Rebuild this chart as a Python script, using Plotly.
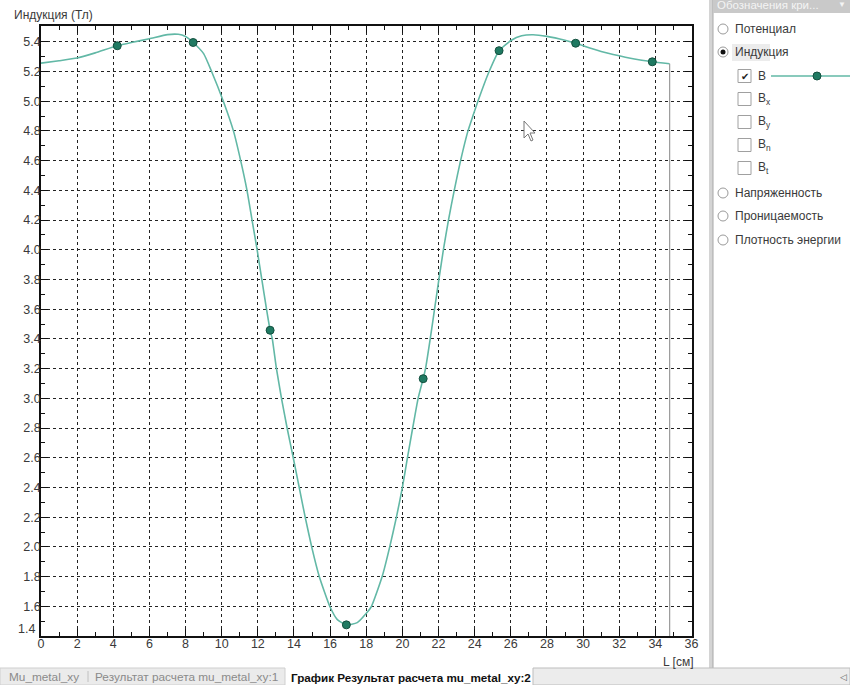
import plotly.graph_objects as go

# ---- data ----
L_cm = [0, 1, 2, 3, 4.22, 5, 6, 7, 7.6, 8, 8.42, 9, 9.44, 10.09, 10.65, 11.05, 11.4,
        11.68, 11.96, 12.22, 12.48, 12.68, 12.8, 13.03, 13.31, 13.62, 13.96, 14.29,
        14.62, 14.98, 15.4, 15.98, 16.4, 16.9, 17.5, 17.98, 18.29, 18.88, 19.3, 19.67,
        20.0, 20.28, 20.57, 20.87, 21.15, 21.28, 21.54, 21.78, 22.02, 22.27, 22.55,
        22.87, 23.22, 23.63, 23.9, 24.18, 24.8, 25.35, 26.03, 26.6, 27.23, 28.0, 29.0,
        29.59, 30.0, 31.0, 32.0, 33.0, 33.83, 34.79]
B_T = [5.256, 5.272, 5.29, 5.325, 5.373, 5.395, 5.42, 5.448, 5.45, 5.435, 5.395, 5.32,
       5.2, 5.0, 4.8, 4.6, 4.4, 4.2, 4.0, 3.8, 3.6, 3.458, 3.4, 3.2, 3.0, 2.8, 2.6, 2.4,
       2.2, 2.0, 1.8, 1.6, 1.51, 1.475, 1.49, 1.55, 1.6, 1.8, 2.0, 2.2, 2.4, 2.6, 2.8,
       3.0, 3.132, 3.2, 3.4, 3.6, 3.8, 4.0, 4.2, 4.4, 4.6, 4.8, 4.9, 5.0, 5.2, 5.34,
       5.41, 5.44, 5.447, 5.436, 5.41, 5.39, 5.373, 5.335, 5.306, 5.28, 5.265, 5.252]
marker_L = [4.22, 8.42, 12.68, 16.9, 21.15, 25.35, 29.59, 33.83]
marker_B = [5.373, 5.395, 3.458, 1.475, 3.132, 5.34, 5.39, 5.265]

x_ticks = list(range(0, 37, 2))
y_ticks = [round(1.4 + 0.2 * i, 1) for i in range(21)]
y_ticktext = ["" if i == 0 else "{:.1f}".format(v) for i, v in enumerate(y_ticks)]

legend_radios = ["Потенциал", "Индукция", "Напряженность", "Проницаемость", "Плотность энергии"]
legend_checks = ["B", "B<sub>x</sub>", "B<sub>y</sub>", "B<sub>n</sub>", "B<sub>t</sub>"]
tabs = ["Mu_metal_xy", "Результат расчета mu_metal_xy:1", "График Результат расчета mu_metal_xy:2"]

W, H = 850, 685
def px(x): return x / W
def py(y): return 1 - y / H

CURVE = "#62b8a6"
MARK = "#1f7a62"
FONT = "Liberation Sans, Arial, sans-serif"
TXT = "#3a3a3a"

fig = go.Figure()
fig.add_trace(go.Scatter(x=L_cm, y=B_T, mode="lines",
                         line=dict(color=CURVE, width=1.6, shape="spline", smoothing=0.5),
                         hoverinfo="skip", showlegend=False))
fig.add_trace(go.Scatter(x=marker_L, y=marker_B, mode="markers",
                         marker=dict(color=MARK, size=8, line=dict(color="#14503f", width=1)),
                         showlegend=False))

shapes = []
annotations = []

def text(t, x, y, size=11, color=TXT, anchor="left", family=FONT):
    annotations.append(dict(text=t, x=px(x), y=py(y), xref="paper", yref="paper",
                            xanchor=anchor, yanchor="middle", showarrow=False, borderpad=0,
                            font=dict(family=family, size=size, color=color)))

# grey end line from curve end down to axis
shapes.append(dict(type="line", xref="x", yref="y", x0=L_cm[-1], x1=L_cm[-1],
                   y0=y_ticks[0], y1=B_T[-1], line=dict(color="#9a9a9a", width=1.2), layer="above"))

# axis titles
text("Индукция (Тл)", 13, 15, size=12)
text("L [см]", 694, 662, size=12, anchor="right")
# lowest y tick label is lifted above the axis corner in the original
text("{:.1f}".format(y_ticks[0]), 36, 629, size=12.5, anchor="right")

# separator between plot and panel
shapes.append(dict(type="rect", xref="paper", yref="paper", x0=px(709), x1=px(713),
                   y0=py(668), y1=py(0), fillcolor="#d4d4d4", line=dict(width=0)))
shapes.append(dict(type="line", xref="paper", yref="paper", x0=px(713), x1=px(713),
                   y0=py(668), y1=py(0), line=dict(color="#a8a8a8", width=1)))

# panel header
shapes.append(dict(type="rect", xref="paper", yref="paper", x0=px(713), x1=px(850),
                   y0=py(13), y1=py(0), fillcolor="#c9c9c9", line=dict(width=0)))
text("Обозначения кри...", 716, 5, size=11.5, color="#f4f4f4")
text("▼", 842, 5, size=8, color="#f4f4f4", anchor="center")

# highlight of selected radio
shapes.append(dict(type="rect", xref="paper", yref="paper", x0=px(732), x1=px(770),
                   y0=py(61), y1=py(44), fillcolor="#ececec", line=dict(width=0), layer="below"))

radio_y = [29, 52, 193, 216, 240]
for i, (lab, yy) in enumerate(zip(legend_radios, radio_y)):
    shapes.append(dict(type="circle", xref="paper", yref="paper",
                       x0=px(718), x1=px(728), y0=py(yy + 5), y1=py(yy - 5),
                       fillcolor="white", line=dict(color="#9a9a9a", width=1)))
    if i == 1:
        shapes.append(dict(type="circle", xref="paper", yref="paper",
                           x0=px(720.5), x1=px(725.5), y0=py(yy + 2.5), y1=py(yy - 2.5),
                           fillcolor="#111", line=dict(width=0)))
    text(lab, 734, yy, size=12)

check_y = [76, 99, 122, 145, 168]
for i, (lab, yy) in enumerate(zip(legend_checks, check_y)):
    shapes.append(dict(type="rect", xref="paper", yref="paper",
                       x0=px(738), x1=px(751), y0=py(yy + 6.5), y1=py(yy - 6.5),
                       fillcolor="white", line=dict(color="#a0a0a0", width=1)))
    if i == 0:
        text("✔", 744.5, yy, size=10, color="#222", anchor="center", family="DejaVu Sans")
    text(lab, 757, yy, size=12)

# legend sample
shapes.append(dict(type="line", xref="paper", yref="paper", x0=px(771), x1=px(850),
                   y0=py(76), y1=py(76), line=dict(color=CURVE, width=1.6)))
shapes.append(dict(type="circle", xref="paper", yref="paper", x0=px(813), x1=px(821),
                   y0=py(80), y1=py(72), fillcolor=MARK, line=dict(color="#14503f", width=1)))

# bottom tab bar
shapes.append(dict(type="rect", xref="paper", yref="paper", x0=0, x1=px(285),
                   y0=0, y1=py(668), fillcolor="#ebebeb", line=dict(color="#cfcfcf", width=1)))
shapes.append(dict(type="rect", xref="paper", yref="paper", x0=px(533), x1=1,
                   y0=0, y1=py(668), fillcolor="#ececec", line=dict(color="#bdbdbd", width=1)))
shapes.append(dict(type="line", xref="paper", yref="paper", x0=px(88), x1=px(88),
                   y0=py(682), y1=py(671), line=dict(color="#c0c0c0", width=1)))
text(tabs[0], 8, 677, size=11.8, color="#8a8a8a")
text(tabs[1], 94, 677, size=11.8, color="#8a8a8a")
text("<b>" + tabs[2] + "</b>", 290, 677, size=11.7, color="#111")
text("◁", 843, 677, size=9, color="#666", anchor="center", family="DejaVu Sans")

# mouse cursor
cx, cy = 524, 121
path = "M {} {} L {} {} L {} {} L {} {} L {} {} L {} {} L {} {} Z".format(
    px(cx), py(cy), px(cx), py(cy + 17), px(cx + 4), py(cy + 13), px(cx + 7), py(cy + 20),
    px(cx + 9), py(cy + 19), px(cx + 6), py(cy + 12), px(cx + 11), py(cy + 12))
shapes.append(dict(type="path", xref="paper", yref="paper", path=path,
                   fillcolor="white", line=dict(color="#777", width=1)))

axis_common = dict(showline=True, linecolor="#111", linewidth=1.5, mirror="ticks",
                   ticks="inside", ticklen=7, tickcolor="#111", tickwidth=1.2,
                   showgrid=True, gridcolor="#222", gridwidth=1, griddash="3px,3px",
                   zeroline=False, tickfont=dict(family=FONT, size=12.5, color=TXT),
                   fixedrange=True, automargin=False)

fig.update_layout(
    width=W, height=H, autosize=False,
    margin=dict(l=0, r=0, t=0, b=0, autoexpand=False),
    paper_bgcolor="white", plot_bgcolor="white",
    showlegend=False,
    xaxis=dict(domain=[px(41), px(691.5)], range=[0, 36], tickvals=x_ticks,
               ticklabelstandoff=-5,
               minor=dict(dtick=1, ticks="inside", ticklen=4, tickcolor="#111", showgrid=False),
               **axis_common),
    yaxis=dict(domain=[py(636), py(26)], range=[1.4, 5.506], tickvals=y_ticks,
               ticktext=y_ticktext, ticklabelstandoff=-4,
               minor=dict(dtick=0.1, ticks="inside", ticklen=4, tickcolor="#111", showgrid=False),
               **axis_common),
    shapes=shapes, annotations=annotations,
)

fig.write_html("out.html", config={"displayModeBar": False},
               post_script="document.body.style.margin='0';document.body.style.overflow='hidden';")
